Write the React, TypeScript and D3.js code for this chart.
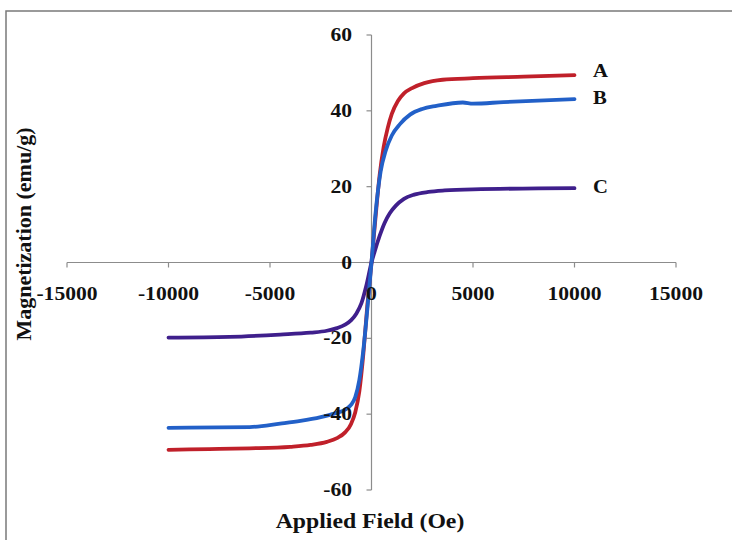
import * as d3 from 'd3'

// field (Oe) and magnetization (emu/g)
const fieldA = [-10000, -8000, -6000, -4000, -3000, -2200, -1700, -1300, -1000, -800, -600, -400, -200, 0, 200, 400, 600, 800, 1000, 1300, 1600, 2000, 2600, 3500, 5000, 7500, 10000]
const magA = [-49.4, -49.2, -49, -48.6, -48.1, -47.3, -46.3, -44.8, -42.5, -39.5, -34, -24, -11, 0, 12, 23, 30.5, 35.5, 39.2, 42.6, 44.6, 46, 47.3, 48.2, 48.6, 49, 49.4]

const fieldB = [-10000, -6000, -4500, -3500, -2500, -1800, -1300, -1000, -800, -600, -400, -200, 0, 200, 450, 700, 1000, 1400, 1900, 2500, 3200, 4500, 5000, 6500, 10000]
const magB = [-43.6, -43.4, -42.5, -41.8, -40.8, -39.8, -38.8, -37.5, -35.5, -31, -23, -12, 0, 13, 24, 29.5, 33.5, 36.5, 39, 40.5, 41.3, 42.2, 41.9, 42.3, 43.1]

const fieldC = [-10000, -7000, -4500, -3000, -2200, -1700, -1300, -1000, -750, -500, -250, 0, 150, 400, 650, 900, 1200, 1600, 2100, 2800, 3600, 5000, 10000]
const magC = [-19.8, -19.6, -19, -18.5, -18, -17.3, -16.4, -15.2, -13.5, -10.8, -6, 0, 2.8, 7, 10.5, 13, 15, 16.8, 17.9, 18.6, 19, 19.3, 19.6]

const xTicks = [-15000, -10000, -5000, 0, 5000, 10000, 15000]
const yTicks = [-60, -40, -20, 0, 20, 40, 60]

const series = [
    { name: 'A', field: fieldA, mag: magA, color: '#c0202a', dy: 2 },
    { name: 'C', field: fieldC, mag: magC, color: '#3f1f8c', dy: 5 },
    { name: 'B', field: fieldB, mag: magB, color: '#2260c8', dy: 5 },
]

const font = '"Liberation Serif", "Times New Roman", serif'

const App = () => {
    const x = d3.scaleLinear().domain([-15000, 15000]).range([67, 676])
    const y = d3.scaleLinear().domain([-60, 60]).range([490, 35])

    const line = d3.line<[number, number]>()
        .x(d => x(d[0]))
        .y(d => y(d[1]))
        .curve(d3.curveMonotoneX)

    const axisColor = '#8c8c8c'

    return (
        <div style={{ position: 'absolute', left: 0, top: 0 }}>
            <svg width={732} height={540} style={{ display: 'block', background: '#fff' }}>
                {/* frame */}
                <rect x={6} y={11} width={740} height={560} fill='none' stroke='#7a7a7a' strokeWidth={1.5} />

                {/* axes */}
                <line x1={x(-15000)} x2={x(15000)} y1={y(0)} y2={y(0)} stroke={axisColor} strokeWidth={1.2} />
                <line x1={x(0)} x2={x(0)} y1={y(60)} y2={y(-60)} stroke={axisColor} strokeWidth={1.2} />
                {xTicks.map(t => (
                    <line key={'xt' + t} x1={x(t)} x2={x(t)} y1={y(0)} y2={y(0) + 5} stroke={axisColor} strokeWidth={1.2} />
                ))}
                {yTicks.map(t => (
                    <line key={'yt' + t} x1={x(0) - 5} x2={x(0)} y1={y(t)} y2={y(t)} stroke={axisColor} strokeWidth={1.2} />
                ))}

                {/* curves */}
                {series.map(s => (
                    <path key={s.name}
                        d={line(s.field.map((f, i) => [f, s.mag[i]] as [number, number])) || ''}
                        fill='none' stroke={s.color} strokeWidth={3.8} strokeLinejoin='round' strokeLinecap='round' />
                ))}

                {/* tick labels */}
                {xTicks.map(t => (
                    <text key={'xl' + t} transform={`translate(${x(t)},300) scale(1.2,1)`}
                        textAnchor='middle' fontFamily={font} fontWeight='bold' fontSize={18} fill='#111'>{t}</text>
                ))}
                {yTicks.map(t => (
                    <text key={'yl' + t} transform={`translate(352,${y(t) + 6}) scale(1.2,1)`}
                        textAnchor='end' fontFamily={font} fontWeight='bold' fontSize={18} fill='#111'>{t}</text>
                ))}

                {/* series labels */}
                {series.map(s => (
                    <text key={'sl' + s.name}
                        transform={`translate(593,${y(s.mag[s.mag.length - 1]) + s.dy}) scale(1.15,1)`}
                        fontFamily={font} fontWeight='bold' fontSize={18} fill='#111'>{s.name}</text>
                ))}

                {/* axis titles */}
                <text transform='translate(370,528) scale(1.08,1)' textAnchor='middle'
                    fontFamily={font} fontWeight='bold' fontSize={22} fill='#111'>Applied Field (Oe)</text>
                <text transform='translate(31,234) rotate(-90)' textAnchor='middle'
                    fontFamily={font} fontWeight='bold' fontSize={22} fill='#111'>Magnetization (emu/g)</text>
            </svg>
        </div>
    )
}

export default App
